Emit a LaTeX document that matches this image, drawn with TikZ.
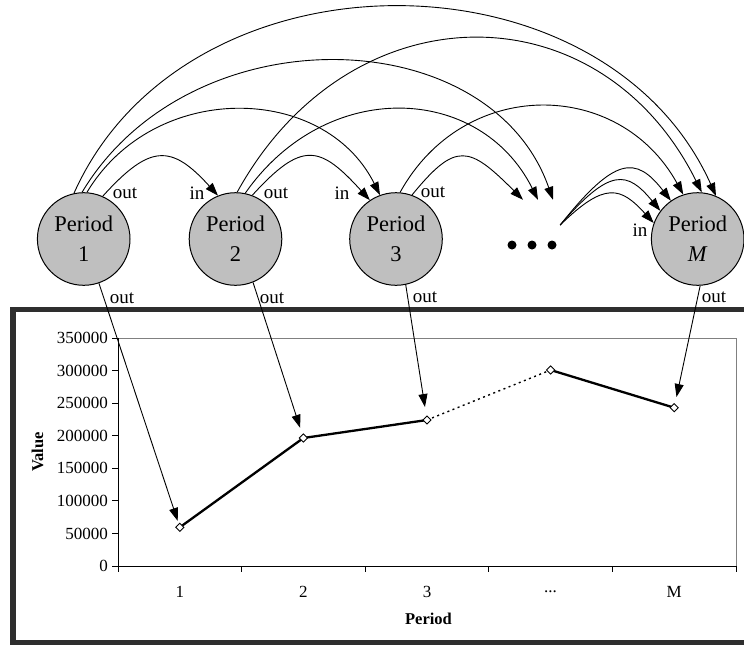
\documentclass[tikz,border=0pt]{standalone}
\usepackage{fontspec}
\setmainfont{Liberation Serif}
\usetikzlibrary{arrows.meta,shapes.geometric}
\begin{document}
\begin{tikzpicture}[x=1pt,y=-1pt,
  per/.style={circle,draw=black,line width=1pt,fill=black!25,minimum size=92.6pt,inner sep=0pt,align=center,font=\fontsize{22.5}{30}\selectfont},
  arc/.style={draw=black,line width=0.9pt,-{Triangle[length=13pt,width=9pt]}},
  lbl/.style={inner sep=0pt,font=\fontsize{19}{20}\selectfont},
  ticklbl/.style={inner sep=0pt,font=\fontsize{17}{18}\selectfont},
  ttl/.style={inner sep=0pt,font=\fontsize{16.5}{18}\selectfont\bfseries},
  mk/.style={diamond,draw=black,fill=white,line width=0.9pt,minimum size=8.5pt,inner sep=0pt},
  dotn/.style={circle,fill=black,minimum size=9pt,inner sep=0pt},
  framebox/.style={draw=black!82,line width=5.5pt},
  ser/.style={line width=2.3pt,draw=black}
]
\useasboundingbox (0,0) rectangle (744,645);
\clip (0,0) rectangle (744,645);

% ---- period nodes
\node[per] (p1) at (83.7,239) {Period\\1};
\node[per] (p2) at (235.5,239) {Period\\2};
\node[per] (p3) at (396,239) {Period\\3};
\node[per] (pm) at (697.7,239) {Period\\\textit{M}};

% ---- ellipsis node
\node[minimum width=56pt,minimum height=50pt,inner sep=0pt] (dots) at (532,225) {};
\node[dotn] (d1) at (512,245) {};
\node[dotn] (d2) at (532,245) {};
\node[dotn] (d3) at (552,245) {};

% ---- arcs
\draw[arc] (p1.102) .. controls +(112,-250) and +(-112,-250) .. (pm.67);
\draw[arc] (p1.92) .. controls +(108,-180) and +(-63,-180) .. ([xshift=21pt]dots.north);
\draw[arc] (p1.86) .. controls +(67,-112) and +(-56,-112) .. (p3.110);
\draw[arc] (p1.66) .. controls +(47,-52) and +(-47,-52) .. (p2.112);
\draw[arc] (p2.88) .. controls +(113,-205) and +(-102,-205) .. (pm.85);
\draw[arc] (p2.78) .. controls +(81,-116) and +(-58,-116) .. ([xshift=6pt]dots.north);
\draw[arc] (p2.69) .. controls +(50,-55) and +(-50,-55) .. (p3.124);
\draw[arc] (p3.85) .. controls +(64,-116) and +(-64,-116) .. (pm.108);
\draw[arc] (p3.70) .. controls +(44,-54) and +(-54,-54) .. ([xshift=-9pt]dots.north);
\draw[arc] (dots.east) .. controls +(55,-69) and +(-35,-45) .. (pm.125);
\draw[arc] (dots.east) .. controls +(50,-58) and +(-33,-40) .. (pm.143);
\draw[arc] (dots.east) .. controls +(45,-44) and +(-33,-36) .. (pm.160);

% ---- in / out labels
\node[lbl] (o1) at (125,193) {out};
\node[lbl] (i2) at (197,193) {in};
\node[lbl] (o2) at (276,193) {out};
\node[lbl] (i3) at (342,193) {in};
\node[lbl] (o3) at (433,192) {out};
\node[lbl] (im) at (640,230) {in};
\node[lbl] (b1) at (122,298) {out};
\node[lbl] (b2) at (272,298) {out};
\node[lbl] (b3) at (425,297) {out};
\node[lbl] (bm) at (714,297) {out};

% ---- chart frame
\draw[framebox] (13,309.5) rectangle (770,642.5);
\draw[draw=black!50,line width=0.8pt] (118,338) rectangle (736,566);
\draw[line width=0.9pt] (118,338) -- (118,566) -- (736,566);
\foreach \i/\v in {0/0,1/50000,2/100000,3/150000,4/200000,5/250000,6/300000,7/350000}{
  \draw[line width=0.8pt] (112,{566-\i*32.571}) -- (118,{566-\i*32.571});
  \node[ticklbl,anchor=east] (yl\i) at (108,{566-\i*32.571}) {\v};
}
\foreach \i in {0,...,5}{
  \draw[line width=0.8pt] ({118+\i*123.6},566) -- ({118+\i*123.6},572);
}
\node[ticklbl] (xl1) at (179.8,592) {1};
\node[ticklbl] (xl2) at (303.4,592) {2};
\node[ticklbl] (xl3) at (427,592) {3};
\node[ticklbl] (xl4) at (550.6,592) {...};
\node[ticklbl] (xl5) at (674.2,592) {M};
\node[ttl] (xt) at (428.5,619) {Period};
\node[ttl,rotate=90] (yt) at (37.5,452) {Value};

% ---- data series
\coordinate (c1) at (179.8,527.3);
\coordinate (c2) at (303.4,438);
\coordinate (c3) at (427,420);
\coordinate (c4) at (550.6,370);
\coordinate (c5) at (674.2,407.7);
\draw[ser] (c1) -- (c2) -- (c3);
\draw[line width=1.4pt,dash pattern=on 2pt off 3.5pt] (c3) -- (c4);
\draw[ser] (c4) -- (c5);
\node[mk] (m1) at (c1) {};
\node[mk] (m2) at (c2) {};
\node[mk] (m3) at (c3) {};
\node[mk] (m4) at (c4) {};
\node[mk] (m5) at (c5) {};

% ---- out arrows into the chart
\draw[arc,shorten >=3pt] (p1.-71) -- (m1);
\draw[arc,shorten >=7pt] (p2.-68) -- (m2);
\draw[arc,shorten >=9pt] (p3.-78) -- (m3);
\draw[arc,shorten >=7pt] (pm.-87) -- (m5);
\end{tikzpicture}
\end{document}
